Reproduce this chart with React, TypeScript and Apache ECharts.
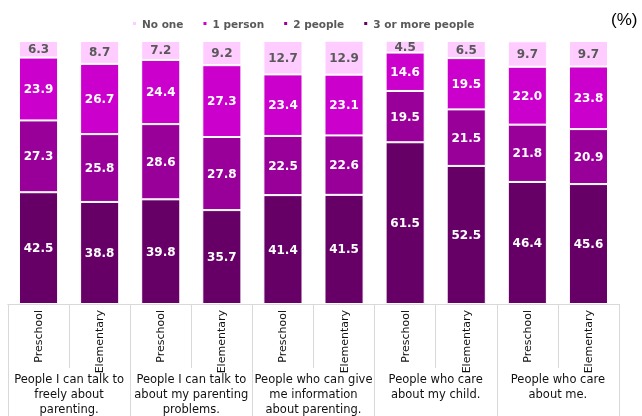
import React, { useEffect, useRef } from "react";
import * as echarts from "echarts";

const subLabels = ["Preschool", "Elementary", "Preschool", "Elementary", "Preschool", "Elementary", "Preschool", "Elementary", "Preschool", "Elementary"];
const groupLabels = [
  "People I can talk to\nfreely about\nparenting.",
  "People I can talk to\nabout my parenting\nproblems.",
  "People who can give\nme information\nabout parenting.",
  "People who care\nabout my child.",
  "People who care\nabout me.",
];
const seriesNames = ["No one", "1 person", "2 people", "3 or more people"];
const noOne = [6.3, 8.7, 7.2, 9.2, 12.7, 12.9, 4.5, 6.5, 9.7, 9.7];
const onePerson = [23.9, 26.7, 24.4, 27.3, 23.4, 23.1, 14.6, 19.5, 22.0, 23.8];
const twoPeople = [27.3, 25.8, 28.6, 27.8, 22.5, 22.6, 19.5, 21.5, 21.8, 20.9];
const threeOrMore = [42.5, 38.8, 39.8, 35.7, 41.4, 41.5, 61.5, 52.5, 46.4, 45.6];
const colors = ["#FFCCFF", "#CC00CC", "#990099", "#660066"];

const FONT = "DejaVu Sans";

export default function App() {
  const ref = useRef<HTMLDivElement>(null);
  useEffect(() => {
    if (!ref.current) return;
    const chart = echarts.init(ref.current, undefined, { renderer: "svg" });
    const mk = (name: string, data: number[], color: string, labelColor: string) => ({
      name,
      type: "bar",
      stack: "total",
      xAxisIndex: 0,
      barWidth: "64%",
      data,
      itemStyle: { color, borderColor: "#ffffff", borderWidth: 1 },
      label: {
        show: true,
        position: "inside",
        color: labelColor,
        fontFamily: FONT,
        fontWeight: "bold",
        fontSize: 12,
        formatter: (p: any) => Number(p.value).toFixed(1),
      },
    });
    chart.setOption({
      animation: false,
      textStyle: { fontFamily: FONT },
      legend: {
        data: seriesNames,
        left: 126,
        top: 13,
        itemWidth: 5,
        itemHeight: 5,
        itemGap: 18,
        icon: "rect",
        textStyle: { color: "#595959", fontSize: 10.5, fontWeight: "bold", fontFamily: FONT },
      },
      graphic: [
        {
          type: "text",
          left: 611,
          top: 11,
          style: { text: "(%)", fontSize: 17, fill: "#000", fontFamily: "Liberation Sans" },
        },
      ],
      grid: { left: 8, right: 23, top: 41, bottom: 110 },
      xAxis: [
        {
          type: "category",
          data: subLabels,
          position: "bottom",
          axisLine: { show: true, lineStyle: { color: "#d9d9d9" } },
          axisTick: { show: true, interval: 0, length: 64, lineStyle: { color: "#d9d9d9" } },
          axisLabel: { interval: 0, rotate: 90, margin: 6, fontSize: 11, color: "#111", fontFamily: FONT },
        },
        {
          type: "category",
          data: groupLabels,
          position: "bottom",
          axisLine: { show: true, lineStyle: { color: "#d9d9d9" } },
          axisTick: { show: true, interval: 0, length: 112, lineStyle: { color: "#d9d9d9" } },
          axisLabel: { interval: 0, margin: 67, fontSize: 11.5, lineHeight: 15, color: "#111", fontFamily: FONT },
        },
      ],
      yAxis: { type: "value", min: 0, max: 100, show: false, splitLine: { show: false } },
      series: [
        mk(seriesNames[3], threeOrMore, colors[3], "#ffffff"),
        mk(seriesNames[2], twoPeople, colors[2], "#ffffff"),
        mk(seriesNames[1], onePerson, colors[1], "#ffffff"),
        mk(seriesNames[0], noOne, colors[0], "#595959"),
      ],
    });
    return () => chart.dispose();
  }, []);
  return <div ref={ref} style={{ position: "fixed", left: 0, top: 0, width: 642, height: 416 }} />;
}
